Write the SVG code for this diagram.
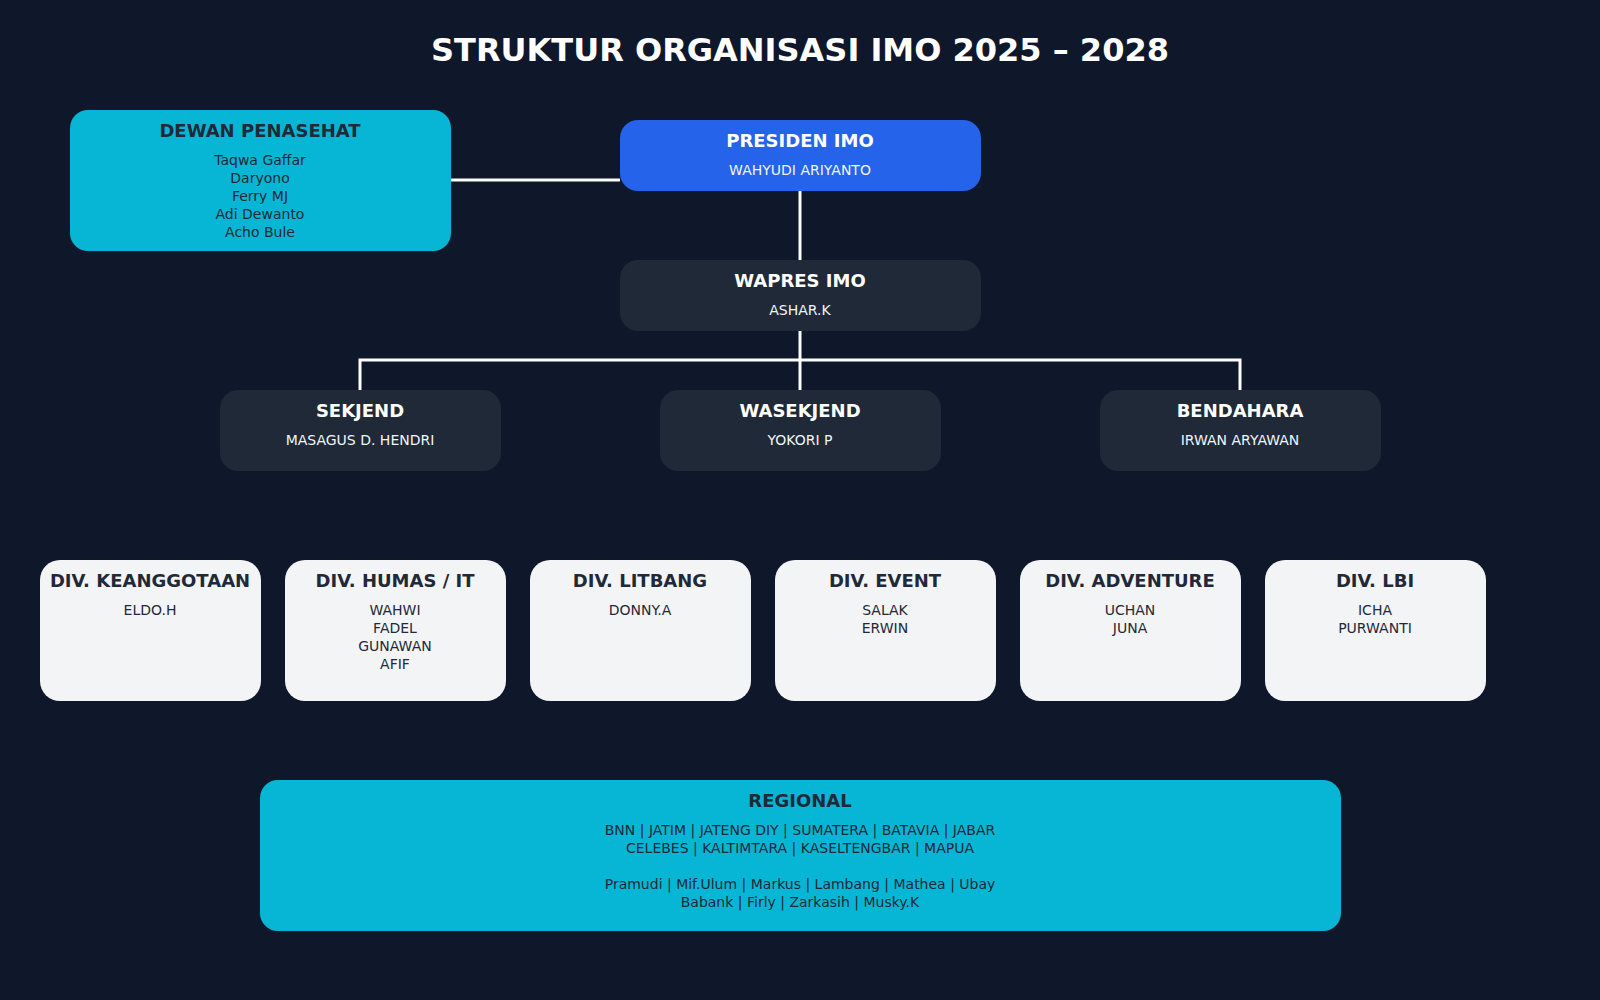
<svg xmlns="http://www.w3.org/2000/svg" width="1600" height="1000" viewBox="0 0 1600 1000">
<style>
text{font-family:"DejaVu Sans","Liberation Sans",sans-serif;text-anchor:middle}
.ttl{font-size:32px;font-weight:bold;fill:#ffffff}
.h{font-size:18px;font-weight:bold}
.n{font-size:14px}
.w{fill:#ffffff}
.wl{fill:#f1f5f9}
.d{fill:#1f2937}
.cy{fill:#06b6d4}
.bl{fill:#2563eb}
.dk{fill:#1f2937}
.lt{fill:#f3f4f6}
.conn{stroke:#ffffff;stroke-width:3;fill:none}
</style>
<rect width="1600" height="1000" fill="#0f172a"/>
<text class="ttl" x="800" y="61">STRUKTUR ORGANISASI IMO 2025 – 2028</text>
<g id="connectors">
<line class="conn" x1="450" y1="180" x2="620" y2="180"/>
<line class="conn" x1="800" y1="190" x2="800" y2="260"/>
<line class="conn" x1="800" y1="330" x2="800" y2="390"/>
<polyline class="conn" points="360,390 360,360 1240,360 1240,390"/>
</g>
<g id="dewan">
<rect class="cy" x="70" y="110" width="381" height="141" rx="18"/>
<text class="h d" x="260" y="137">DEWAN PENASEHAT</text>
<text class="n d" x="260" y="165">Taqwa Gaffar</text>
<text class="n d" x="260" y="183">Daryono</text>
<text class="n d" x="260" y="201">Ferry MJ</text>
<text class="n d" x="260" y="219">Adi Dewanto</text>
<text class="n d" x="260" y="237">Acho Bule</text>
</g>
<g id="presiden">
<rect class="bl" x="620" y="120" width="361" height="71" rx="18"/>
<text class="h w" x="800" y="147">PRESIDEN IMO</text>
<text class="n wl" x="800" y="175">WAHYUDI ARIYANTO</text>
</g>
<g id="wapres">
<rect class="dk" x="620" y="260" width="361" height="71" rx="18"/>
<text class="h w" x="800" y="287">WAPRES IMO</text>
<text class="n wl" x="800" y="315">ASHAR.K</text>
</g>
<g id="sekjend">
<rect class="dk" x="220" y="390" width="281" height="81" rx="18"/>
<text class="h w" x="360" y="417">SEKJEND</text>
<text class="n wl" x="360" y="445">MASAGUS D. HENDRI</text>
</g>
<g id="wasekjend">
<rect class="dk" x="660" y="390" width="281" height="81" rx="18"/>
<text class="h w" x="800" y="417">WASEKJEND</text>
<text class="n wl" x="800" y="445">YOKORI P</text>
</g>
<g id="bendahara">
<rect class="dk" x="1100" y="390" width="281" height="81" rx="18"/>
<text class="h w" x="1240" y="417">BENDAHARA</text>
<text class="n wl" x="1240" y="445">IRWAN ARYAWAN</text>
</g>
<g id="div-keanggotaan">
<rect class="lt" x="40" y="560" width="221" height="141" rx="20"/>
<text class="h d" x="150" y="587">DIV. KEANGGOTAAN</text>
<text class="n d" x="150" y="615">ELDO.H</text>
</g>
<g id="div-humas">
<rect class="lt" x="285" y="560" width="221" height="141" rx="20"/>
<text class="h d" x="395" y="587">DIV. HUMAS / IT</text>
<text class="n d" x="395" y="615">WAHWI</text>
<text class="n d" x="395" y="633">FADEL</text>
<text class="n d" x="395" y="651">GUNAWAN</text>
<text class="n d" x="395" y="669">AFIF</text>
</g>
<g id="div-litbang">
<rect class="lt" x="530" y="560" width="221" height="141" rx="20"/>
<text class="h d" x="640" y="587">DIV. LITBANG</text>
<text class="n d" x="640" y="615">DONNY.A</text>
</g>
<g id="div-event">
<rect class="lt" x="775" y="560" width="221" height="141" rx="20"/>
<text class="h d" x="885" y="587">DIV. EVENT</text>
<text class="n d" x="885" y="615">SALAK</text>
<text class="n d" x="885" y="633">ERWIN</text>
</g>
<g id="div-adventure">
<rect class="lt" x="1020" y="560" width="221" height="141" rx="20"/>
<text class="h d" x="1130" y="587">DIV. ADVENTURE</text>
<text class="n d" x="1130" y="615">UCHAN</text>
<text class="n d" x="1130" y="633">JUNA</text>
</g>
<g id="div-lbi">
<rect class="lt" x="1265" y="560" width="221" height="141" rx="20"/>
<text class="h d" x="1375" y="587">DIV. LBI</text>
<text class="n d" x="1375" y="615">ICHA</text>
<text class="n d" x="1375" y="633">PURWANTI</text>
</g>
<g id="regional">
<rect class="cy" x="260" y="780" width="1081" height="151" rx="18"/>
<text class="h d" x="800" y="807">REGIONAL</text>
<text class="n d" x="800" y="835">BNN | JATIM | JATENG DIY | SUMATERA | BATAVIA | JABAR</text>
<text class="n d" x="800" y="853">CELEBES | KALTIMTARA | KASELTENGBAR | MAPUA</text>
<text class="n d" x="800" y="889">Pramudi | Mif.Ulum | Markus | Lambang | Mathea | Ubay</text>
<text class="n d" x="800" y="907">Babank | Firly | Zarkasih | Musky.K</text>
</g>
</svg>
